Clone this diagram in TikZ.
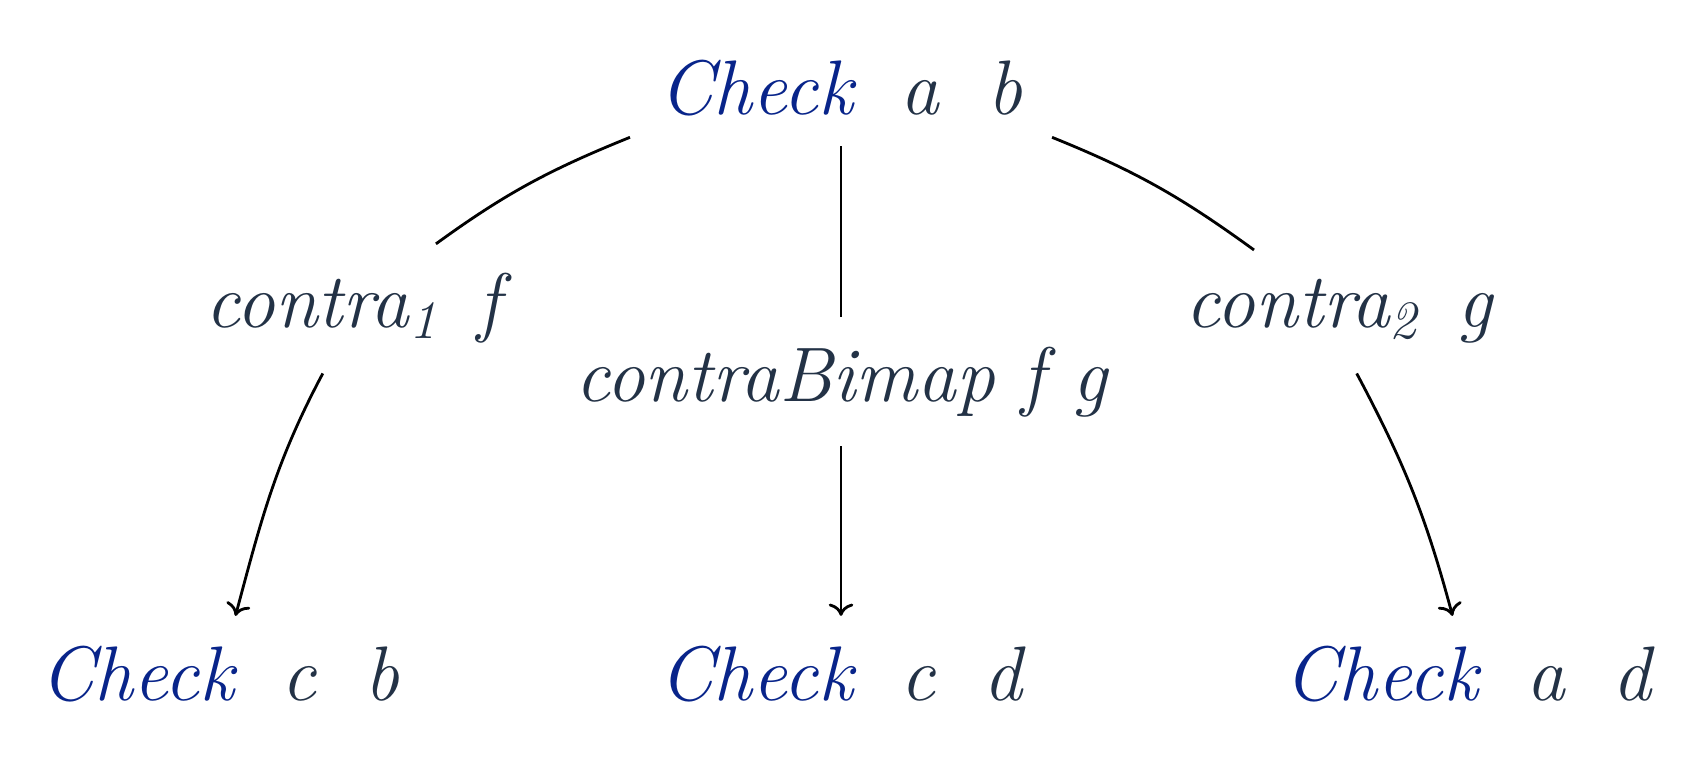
\documentclass[tikz,border=0pt]{standalone}
\usepackage{amsmath}
\usepackage{tikz}
\usetikzlibrary{arrows.meta}

\definecolor{checkblue}{RGB}{8,36,138}
\definecolor{varslate}{RGB}{35,50,70}

\newcommand{\chk}[2]{\textcolor{checkblue}{Check}\hspace{0.62em}\textcolor{varslate}{#1\hspace{0.62em}#2}}

\tikzset{
  term/.style={font=\fontsize{22}{26}\selectfont\itshape, text=varslate, inner sep=0.29cm, anchor=base},
  link/.style={line width=0.8pt},
  arr/.style={line width=0.8pt, -{To[width=7pt,length=3.5pt]}}
}

\begin{document}
\begin{tikzpicture}
    \useasboundingbox (0,0) rectangle (16.89,7.56);

    % top and bottom
    \node[term] (ab) at (8.41, 6.41) {\chk{a}{b}};
    \node[term] (cb) at (2.20, 0.56) {\chk{c}{b}};
    \node[term] (cd) at (8.41, 0.56) {\chk{c}{d}};
    \node[term] (ad) at (14.68, 0.56) {\chk{a}{d}};

    % labels on the branches
    \node[term] (fst) at (3.53, 4.28) {contra\textsubscript{1}\hspace{0.5em}f};
    \node[term] (bim) at (8.41, 3.55) {contraBimap f g};
    \node[term] (snd) at (13.39, 4.28) {contra\textsubscript{2}\hspace{0.5em}g};

    % left branch
    \draw[link] (ab.193) to[out=202, in=36] (fst.38);
    \draw[arr] (fst.245) to[out=242, in=75] (cb.75);

    % middle branch
    \draw[link] (ab.south) -- (bim.north);
    \draw[arr] (bim.south) -- (cd.north);

    % right branch
    \draw[link] (ab.347) to[out=338, in=144] (snd.144);
    \draw[arr] (snd.286) to[out=298, in=105] (ad.105);
\end{tikzpicture}
\end{document}
